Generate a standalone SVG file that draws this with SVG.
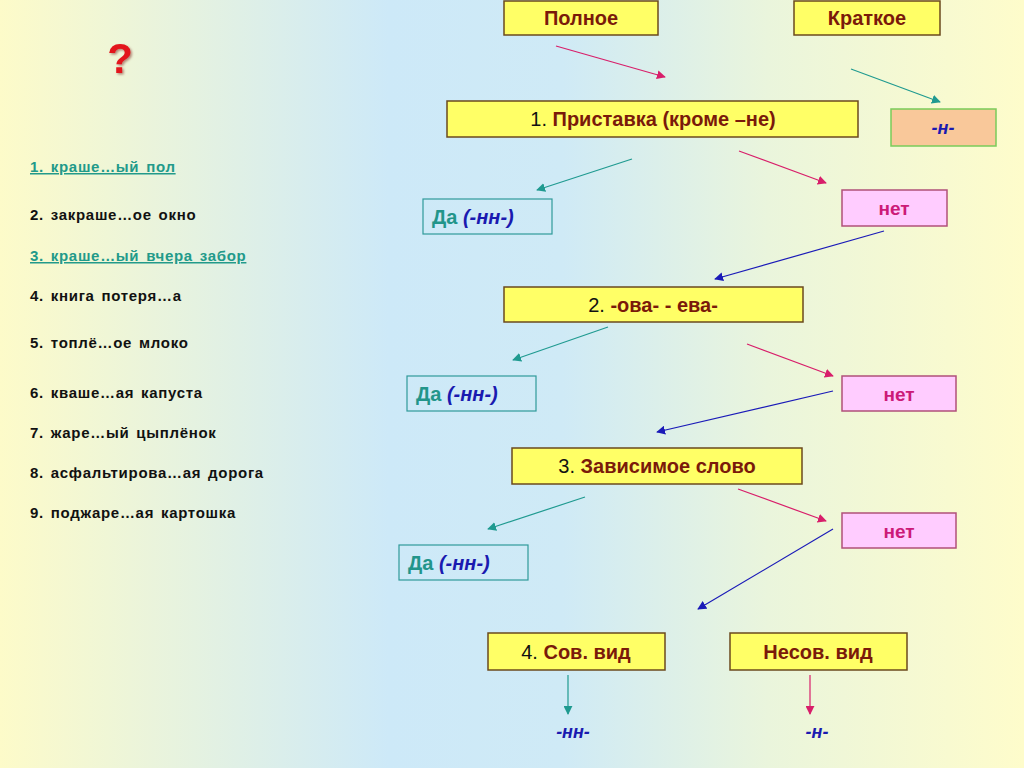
<svg xmlns="http://www.w3.org/2000/svg" width="1024" height="768" viewBox="0 0 1024 768">
<defs>
<linearGradient id="bg" x1="0" y1="0" x2="1" y2="0">
<stop offset="0" stop-color="#fdfbc9"/>
<stop offset="0.38" stop-color="#cde9f8"/>
<stop offset="0.55" stop-color="#cfeaf6"/>
<stop offset="0.75" stop-color="#eaf5dc"/>
<stop offset="1" stop-color="#fefccb"/>
</linearGradient>
<filter id="sh" x="-50%" y="-50%" width="200%" height="200%"><feDropShadow dx="1.5" dy="1.5" stdDeviation="1" flood-color="#600" flood-opacity="0.45"/></filter>
<marker id="mp" viewBox="0 0 10 10" refX="9" refY="5" markerWidth="9" markerHeight="9" markerUnits="userSpaceOnUse" orient="auto"><path d="M0,0 L10,5 L0,10 z" fill="#d81e6a"/></marker>
<marker id="mt" viewBox="0 0 10 10" refX="9" refY="5" markerWidth="9" markerHeight="9" markerUnits="userSpaceOnUse" orient="auto"><path d="M0,0 L10,5 L0,10 z" fill="#1f9a90"/></marker>
<marker id="mb" viewBox="0 0 10 10" refX="9" refY="5" markerWidth="9" markerHeight="9" markerUnits="userSpaceOnUse" orient="auto"><path d="M0,0 L10,5 L0,10 z" fill="#1a1ab8"/></marker>
</defs>
<style>
text{font-family:"Liberation Sans",Arial,sans-serif;}
.y{fill:#ffff66;stroke:#6b4a1e;stroke-width:1.5;}
.p{fill:#ffccff;stroke:#b0507a;stroke-width:1.5;}
.d{fill:none;stroke:#2f9a9a;stroke-width:1.2;}
.k{fill:#f9c89a;stroke:#7acb5a;stroke-width:1.5;}
.bt{font-size:20px;font-weight:bold;fill:#7a1a0a;text-anchor:middle;}
.num{font-weight:normal;fill:#111;}
.net{font-size:19px;font-weight:bold;fill:#cc1a78;text-anchor:middle;}
.da{font-size:20px;font-weight:bold;fill:#22958a;}
.nn{fill:#1a1ab0;font-style:italic;}
.suf{font-size:18px;font-weight:bold;font-style:italic;fill:#1a1ab0;text-anchor:middle;}
.li{font-size:15px;font-weight:bold;fill:#111;letter-spacing:0.7px;word-spacing:2px;}
.lt{fill:#229a8a;text-decoration:underline;}
.cp{stroke:#d81e6a;stroke-width:1.2;fill:none;marker-end:url(#mp);}
.ct{stroke:#1f9a90;stroke-width:1.2;fill:none;marker-end:url(#mt);}
.cb{stroke:#1a1ab8;stroke-width:1.2;fill:none;marker-end:url(#mb);}
</style>
<rect x="0" y="0" width="1024" height="768" fill="url(#bg)"/>
<g id="question">
<text x="120" y="73" font-size="42" font-weight="bold" fill="#e3141c" text-anchor="middle" filter="url(#sh)">?</text>
</g>
<g id="list">
<text class="li lt" x="30" y="172">1. краше…ый пол</text>
<text class="li" x="30" y="220">2. закраше…ое окно</text>
<text class="li lt" x="30" y="261">3. краше…ый вчера забор</text>
<text class="li" x="30" y="301">4. книга потеря…а</text>
<text class="li" x="30" y="348">5. топлё…ое млоко</text>
<text class="li" x="30" y="398">6. кваше…ая капуста</text>
<text class="li" x="30" y="438">7. жаре…ый цыплёнок</text>
<text class="li" x="30" y="478">8. асфальтирова…ая дорога</text>
<text class="li" x="30" y="518">9. поджаре…ая картошка</text>
</g>
<g id="connectors">
<line class="cp" x1="556" y1="46" x2="665" y2="77"/>
<line class="ct" x1="851" y1="69" x2="940" y2="102"/>
<line class="ct" x1="632" y1="159" x2="537" y2="190"/>
<line class="cp" x1="739" y1="151" x2="826" y2="183"/>
<line class="cb" x1="884" y1="231" x2="715" y2="279"/>
<line class="ct" x1="608" y1="327" x2="513" y2="360"/>
<line class="cp" x1="747" y1="344" x2="833" y2="376"/>
<line class="cb" x1="833" y1="391" x2="657" y2="432"/>
<line class="ct" x1="585" y1="497" x2="488" y2="529"/>
<line class="cp" x1="738" y1="489" x2="826" y2="521"/>
<line class="cb" x1="833" y1="529" x2="698" y2="609"/>
<line class="ct" x1="568" y1="675" x2="568" y2="714"/>
<line class="cp" x1="810" y1="675" x2="810" y2="714"/>
</g>
<g id="polnoe"><rect class="y" x="504" y="1" width="154" height="34"/><text class="bt" x="581" y="25">Полное</text></g>
<g id="kratkoe"><rect class="y" x="794" y="1" width="146" height="34"/><text class="bt" x="867" y="25">Краткое</text></g>
<g id="pristavka"><rect class="y" x="447" y="101" width="411" height="36"/><text class="bt" x="653" y="126"><tspan class="num">1. </tspan>Приставка (кроме –не)</text></g>
<g id="n-short"><rect class="k" x="891" y="109" width="105" height="37"/><text class="suf" x="943" y="134">-н-</text></g>
<g id="da1"><rect class="d" x="423" y="199" width="129" height="35"/><text class="da" x="432" y="224">Да <tspan class="nn">(-нн-)</tspan></text></g>
<g id="net1"><rect class="p" x="842" y="190" width="105" height="36"/><text class="net" x="894" y="215">нет</text></g>
<g id="ova"><rect class="y" x="504" y="287" width="299" height="35"/><text class="bt" x="653" y="312"><tspan class="num">2. </tspan>-ова- - ева-</text></g>
<g id="da2"><rect class="d" x="407" y="376" width="129" height="35"/><text class="da" x="416" y="401">Да <tspan class="nn">(-нн-)</tspan></text></g>
<g id="net2"><rect class="p" x="842" y="376" width="114" height="35"/><text class="net" x="899" y="401">нет</text></g>
<g id="zavisimoe"><rect class="y" x="512" y="448" width="290" height="36"/><text class="bt" x="657" y="473"><tspan class="num">3. </tspan>Зависимое слово</text></g>
<g id="da3"><rect class="d" x="399" y="545" width="129" height="35"/><text class="da" x="408" y="570">Да <tspan class="nn">(-нн-)</tspan></text></g>
<g id="net3"><rect class="p" x="842" y="513" width="114" height="35"/><text class="net" x="899" y="538">нет</text></g>
<g id="sov"><rect class="y" x="488" y="633" width="177" height="37"/><text class="bt" x="576" y="659"><tspan class="num">4. </tspan>Сов. вид</text></g>
<g id="nesov"><rect class="y" x="730" y="633" width="177" height="37"/><text class="bt" x="818" y="659">Несов. вид</text></g>
<g id="res-nn"><text class="suf" x="573" y="738">-нн-</text></g>
<g id="res-n"><text class="suf" x="817" y="738">-н-</text></g>
</svg>
